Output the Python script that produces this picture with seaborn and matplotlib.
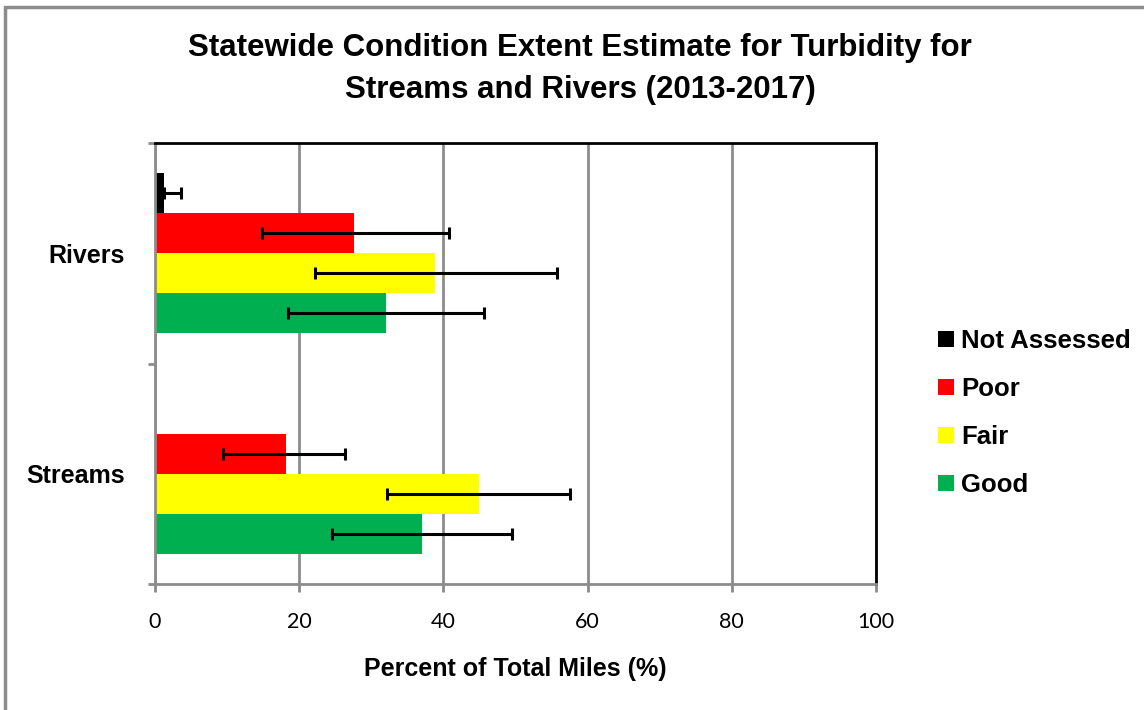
import numpy as np
import pandas as pd
import matplotlib
matplotlib.use("Agg")
import matplotlib.pyplot as plt
import seaborn as sns
from matplotlib.patches import Rectangle
from matplotlib.ticker import FixedLocator

# data
categories = ["Rivers", "Streams"]
conditions = ["Not Assessed", "Poor", "Fair", "Good"]
rivers_pct = [1.2, 27.6, 38.9, 32.0]
rivers_lo = [1.2, 14.8, 22.2, 18.4]
rivers_hi = [3.6, 40.8, 55.7, 45.6]
streams_pct = [0.0, 18.1, 44.9, 37.1]
streams_lo = [np.nan, 9.5, 32.2, 24.6]
streams_hi = [np.nan, 26.4, 57.5, 49.5]
x_ticks = [0, 20, 40, 60, 80, 100]

colors = ["#000000", "#FF0000", "#FFFF00", "#00B050"]
grey = "#8C8C8C"

df = pd.DataFrame({
    "waterbody": [c for c in categories for _ in conditions],
    "condition": conditions * len(categories),
    "pct": rivers_pct + streams_pct,
    "lo": rivers_lo + streams_lo,
    "hi": rivers_hi + streams_hi,
})

sns.set_style("white")
plt.rcParams['font.family'] = ['Liberation Sans', 'DejaVu Sans']
plt.rcParams['text.color'] = 'black'
plt.rcParams['axes.labelcolor'] = 'black'
plt.rcParams['xtick.labelcolor'] = 'black'
plt.rcParams['ytick.labelcolor'] = 'black'

fig = plt.figure(figsize=(11.44, 7.10), dpi=100)
ax = fig.add_axes([155 / 1144, 1 - 584 / 710, (876 - 155) / 1144, (584 - 143) / 710])

sns.barplot(data=df, x="pct", y="waterbody", hue="condition", order=categories,
            hue_order=conditions, palette=colors, orient="h", width=0.726,
            errorbar=None, linewidth=0, saturation=1, ax=ax)

# error bars placed on the bars seaborn drew
for cond, cont in zip(conditions, ax.containers):
    sub = df[df["condition"] == cond].set_index("waterbody").loc[categories]
    for bar, (_, row) in zip(cont, sub.iterrows()):
        if np.isnan(row["lo"]):
            continue
        yc = bar.get_y() + bar.get_height() / 2
        v = bar.get_width()
        ax.errorbar(v, yc, xerr=[[v - row["lo"]], [row["hi"] - v]], fmt="none",
                    ecolor="black", elinewidth=2.2, capsize=4.5, capthick=2.2, zorder=5)

ax.set_xlim(0, 100)
ax.set_ylim(1.5, -0.5)
ax.set_xticks(x_ticks)
ax.set_xticklabels([str(t) for t in x_ticks], fontfamily="Lato", fontsize=15.5)
ax.xaxis.grid(True, color=grey, linewidth=2)
ax.yaxis.grid(False)
ax.set_axisbelow(True)

ax.yaxis.set_minor_locator(FixedLocator([-0.5, 0.5, 1.5]))
ax.tick_params(axis="y", which="major", length=0, pad=22, labelsize=18)
ax.tick_params(axis="y", which="minor", length=5, width=2, color=grey, left=True)
ax.tick_params(axis="x", length=6, width=2, color=grey, bottom=True, pad=14)
for lab in ax.get_yticklabels():
    lab.set_fontweight("bold")

for side in ["left", "bottom"]:
    ax.spines[side].set_color(grey)
    ax.spines[side].set_linewidth(2)
for side in ["top", "right"]:
    ax.spines[side].set_color("black")
    ax.spines[side].set_linewidth(2)

ax.set_ylabel("")
ax.set_xlabel("Percent of Total Miles (%)", fontsize=18, fontweight="bold", labelpad=18)

sns.move_legend(ax, "center left", bbox_to_anchor=(0.8, 1 - 413 / 710),
                bbox_transform=fig.transFigure, frameon=False, title=None,
                handlelength=0.6, handleheight=0.6, handletextpad=0.3,
                labelspacing=0.93, prop={"size": 18.5, "weight": "bold"})

fig.text(0.507, 1 - 48 / 710, "Statewide Condition Extent Estimate for Turbidity for",
         ha="center", va="center", fontsize=22.5, fontweight="bold")
fig.text(0.507, 1 - 90 / 710, "Streams and Rivers (2013-2017)",
         ha="center", va="center", fontsize=22.5, fontweight="bold")

# outer chart border
fig.patches.append(Rectangle((5 / 1144, -0.1), 1.2, 1.1 - 7 / 710, transform=fig.transFigure,
                             fill=False, edgecolor=grey, linewidth=2.5))

fig.savefig("out.png", dpi=100)
